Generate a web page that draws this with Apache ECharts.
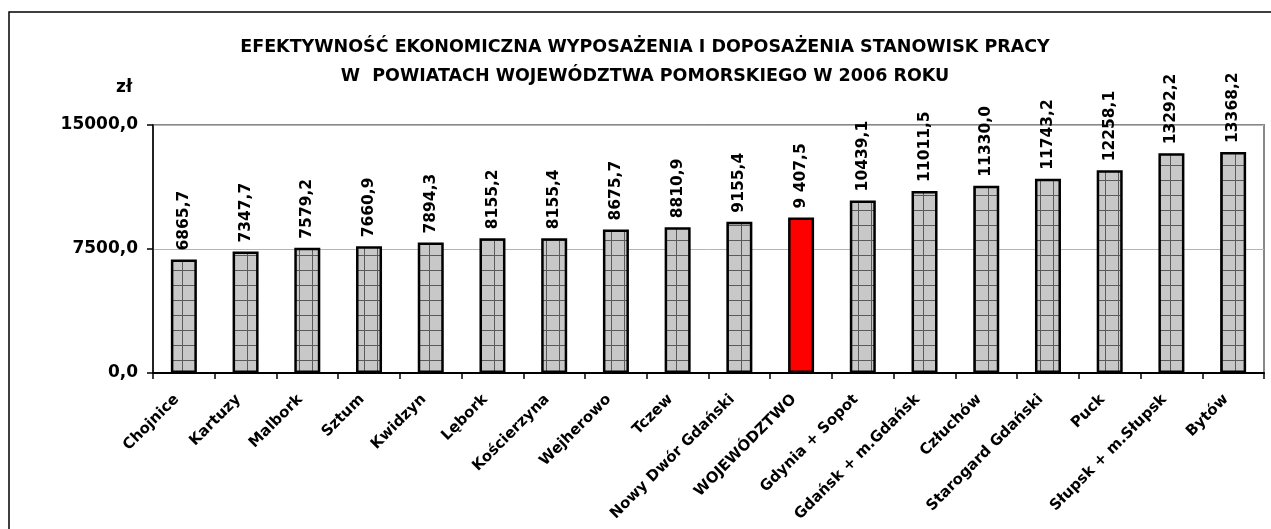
<!DOCTYPE html>
<html>
<head>
<meta charset="utf-8">
<script src="https://cdn.jsdelivr.net/npm/echarts@6/dist/echarts.min.js"></script>
<style>
html,body{margin:0;padding:0;background:#fff;}
#c{width:1271px;height:529px;}
</style>
</head>
<body>
<div id="c"></div>
<script>
const categories = ['Chojnice','Kartuzy','Malbork','Sztum','Kwidzyn','Lębork','Kościerzyna','Wejherowo','Tczew','Nowy Dwór Gdański','WOJEWÓDZTWO','Gdynia + Sopot','Gdańsk + m.Gdańsk','Człuchów','Starogard Gdański','Puck','Słupsk + m.Słupsk','Bytów'];
const values = [6865.7,7347.7,7579.2,7660.9,7894.3,8155.2,8155.4,8675.7,8810.9,9155.4,9407.5,10439.1,11011.5,11330.0,11743.2,12258.1,13292.2,13368.2];
const valueLabels = ['6865,7','7347,7','7579,2','7660,9','7894,3','8155,2','8155,4','8675,7','8810,9','9155,4','9 407,5','10439,1','11011,5','11330,0','11743,2','12258,1','13292,2','13368,2'];
const highlightIndex = 10;
const titleLines = ['EFEKTYWNOŚĆ EKONOMICZNA WYPOSAŻENIA I DOPOSAŻENIA STANOWISK PRACY','W  POWIATACH WOJEWÓDZTWA POMORSKIEGO W 2006 ROKU'];
const unit = 'zł';

const tile = document.createElement('canvas');
tile.width = 13; tile.height = 15;
const tc = tile.getContext('2d');
tc.fillStyle = '#c8c8c8';
tc.fillRect(0,0,13,15);
tc.strokeStyle = '#5a5a5a';
tc.lineWidth = 2;
tc.beginPath();
tc.moveTo(0,0); tc.lineTo(13,0);
tc.moveTo(0,0); tc.lineTo(0,15);
tc.stroke();

const font = 'DejaVu Sans, sans-serif';
const chart = echarts.init(document.getElementById('c'), null, {renderer:'canvas'});
chart.setOption({
  animation:false,
  backgroundColor:'#fff',
  title:{
    text: titleLines.join('\n'),
    left: 640, top: 28, textAlign:'center',
    textStyle:{fontFamily:font,fontWeight:'bold',fontSize:17.5,color:'#000',lineHeight:29}
  },
  graphic:[
    {type:'rect',shape:{x:9,y:12,width:1400,height:700},style:{fill:'none',stroke:'#000',lineWidth:1.5},z:-1},
    {type:'text',left:116,top:79,style:{text:unit,font:'bold 17px '+font,fill:'#000'}}
  ],
  grid:{left:153,right:7,top:125,bottom:156,show:true,borderColor:'#888',borderWidth:2,containLabel:false},
  xAxis:{
    type:'category',data:categories,
    axisLine:{lineStyle:{color:'#000',width:2}},
    axisTick:{show:true,length:6,lineStyle:{color:'#000',width:1.5}},
    axisLabel:{rotate:45,interval:0,fontFamily:font,fontWeight:'bold',fontSize:15,color:'#000',margin:17,padding:[0,10,0,0]}
  },
  yAxis:{
    type:'value',min:0,max:15000,interval:7500,
    axisLine:{show:true,lineStyle:{color:'#000',width:1.5}},
    axisTick:{show:true,length:6,lineStyle:{color:'#000',width:1.5}},
    splitLine:{show:true,lineStyle:{color:'#b4b4b4',width:1}},
    axisLabel:{formatter:v=>v.toFixed(1).replace('.',','),fontFamily:font,fontWeight:'bold',fontSize:17,color:'#000',margin:15}
  },
  series:[{
    type:'bar',
    barWidth:26,
    data: values.map((v,i)=>({
      value:v,
      itemStyle:{color: i===highlightIndex ? '#ff0000' : {image:tile,repeat:'repeat'}, borderColor:'#000', borderWidth:2.5}
    })),
    label:{
      show:true,position:'top',rotate:90,align:'left',verticalAlign:'middle',distance:9,
      formatter:p=>valueLabels[p.dataIndex],
      fontFamily:font,fontWeight:'bold',fontSize:15.5,color:'#000'
    }
  }]
});
</script>
</body>
</html>
